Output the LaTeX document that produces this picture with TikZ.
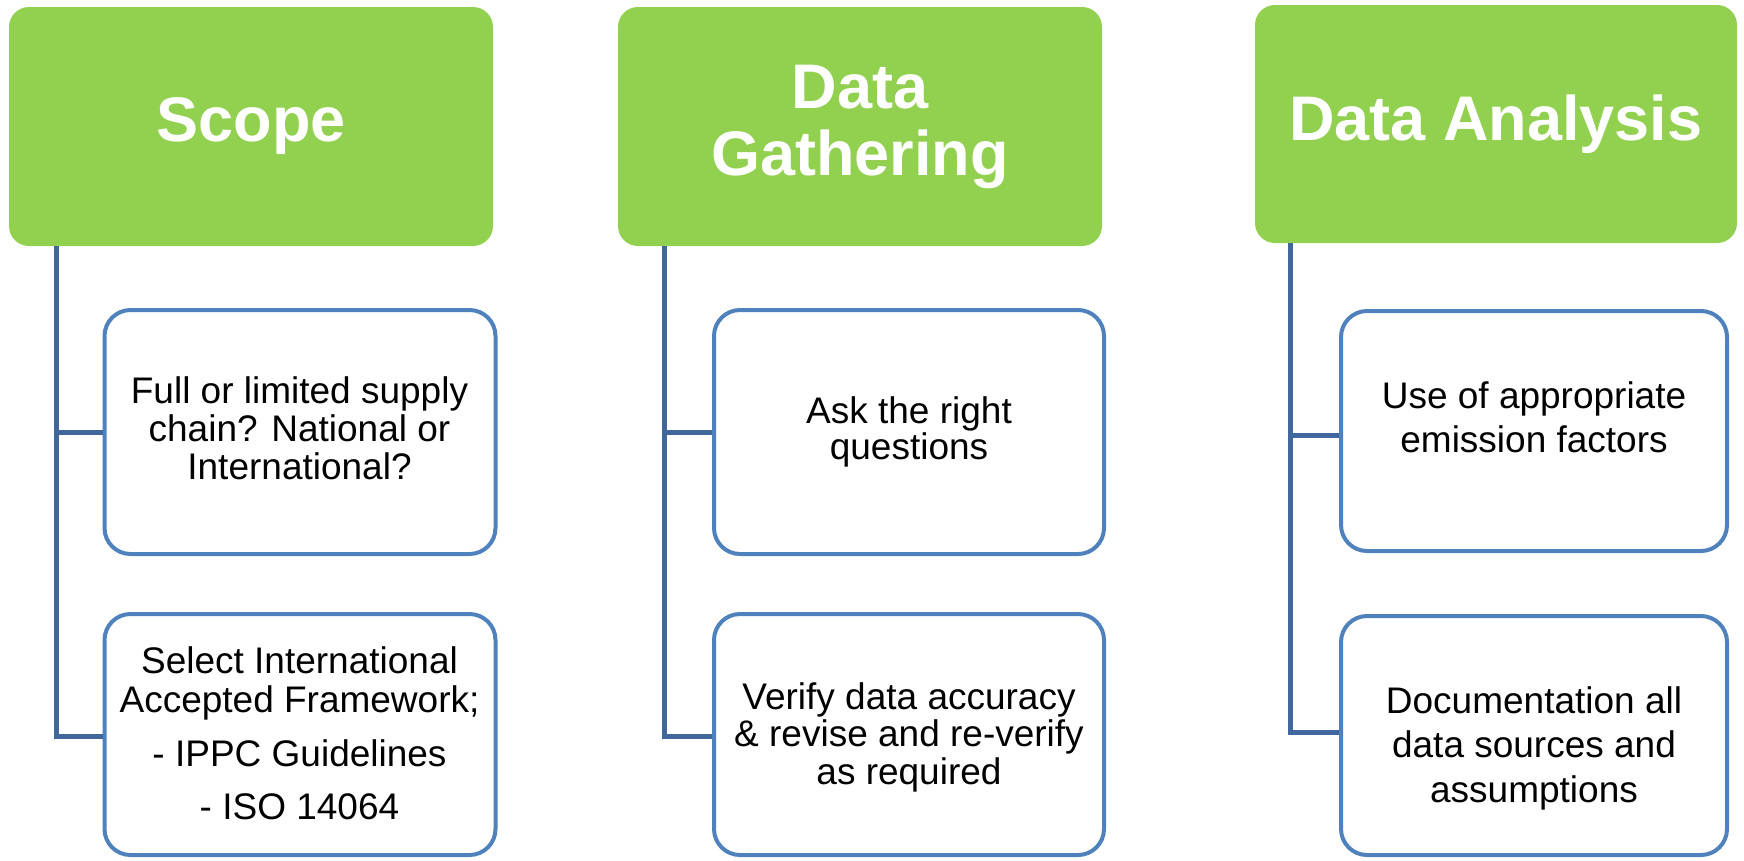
\documentclass[tikz,border=0pt]{standalone}
\usepackage{fontspec}
\setmainfont{Liberation Sans}
\usetikzlibrary{calc}
\definecolor{hdrgreen}{HTML}{92D050}
\definecolor{boxblue}{HTML}{4F81BD}
\definecolor{linkblue}{HTML}{41689C}
\begin{document}
\begin{tikzpicture}[x=1pt,y=-1pt,
  header/.style={fill=hdrgreen, rounded corners=20pt, minimum width=484pt, minimum height=239pt,
    inner sep=0pt, text=white, align=center, font=\fontsize{63}{67}\selectfont\bfseries},
  child/.style={draw=boxblue, line width=4pt, rounded corners=26pt, fill=white, inner sep=0pt},
  link/.style={draw=linkblue, line width=5pt},
  ctext/.style={align=center, inner sep=0pt, anchor=north}]
\useasboundingbox (0,0) rectangle (1744,860);

% headers
\node[header] (h1) at (251,126.5) {Scope};
\node[header] (h2) at (860,126.5) {Data\\Gathering};
\node[header, minimum width=482pt, minimum height=238pt] (h3) at (1496,124) {Data Analysis};

% child boxes
\node[child, minimum width=391pt, minimum height=244pt] (c11) at (300,432) {};
\node[child, minimum width=391pt, minimum height=241pt] (c12) at (300,734.5) {};
\node[child, minimum width=390pt, minimum height=244pt] (c21) at (909,432) {};
\node[child, minimum width=390pt, minimum height=241pt] (c22) at (909,734.5) {};
\node[child, minimum width=386pt, minimum height=240pt] (c31) at (1534,431) {};
\node[child, minimum width=386pt, minimum height=239pt] (c32) at (1534,735.5) {};

% child texts
\node[ctext, font=\fontsize{37}{38}\selectfont] (t11) at (299.5,376.5)
  {Full or limited supply\\chain? National or\\International?};
\node[ctext, font=\fontsize{37}{39}\selectfont] (t12) at (299.5,646)
  {Select International\\Accepted Framework;\\[15pt]- IPPC Guidelines\\[14pt]- ISO 14064};
\node[ctext, font=\fontsize{37}{36}\selectfont] (t21) at (909,396)
  {Ask the right\\questions};
\node[ctext, font=\fontsize{37}{37.5}\selectfont] (t22) at (909,682)
  {Verify data accuracy\\\& revise and re-verify\\as required};
\node[ctext, font=\fontsize{37}{44}\selectfont] (t31) at (1534,381)
  {Use of appropriate\\emission factors};
\node[ctext, font=\fontsize{37}{44.5}\selectfont] (t32) at (1534,686)
  {Documentation all\\data sources and\\assumptions};

% connectors
\coordinate (v1) at ($(h1.south west)+(48,0)$);
\coordinate (v2) at ($(h2.south west)+(47,0)$);
\coordinate (v3) at ($(h3.south west)+(36,0)$);
\coordinate (e12) at ($(c12.west)+(0,2)$);
\coordinate (e22) at ($(c22.west)+(0,2)$);
\coordinate (e31) at ($(c31.west)+(0,4)$);
\coordinate (e32) at ($(c32.west)+(0,-3.5)$);
\draw[link] (v1) |- (e12);
\draw[link] (v1 |- c11.west) -- (c11.west);
\draw[link] (v2) |- (e22);
\draw[link] (v2 |- c21.west) -- (c21.west);
\draw[link] (v3) |- (e32);
\draw[link] (v3 |- e31) -- (e31);
\end{tikzpicture}
\end{document}
